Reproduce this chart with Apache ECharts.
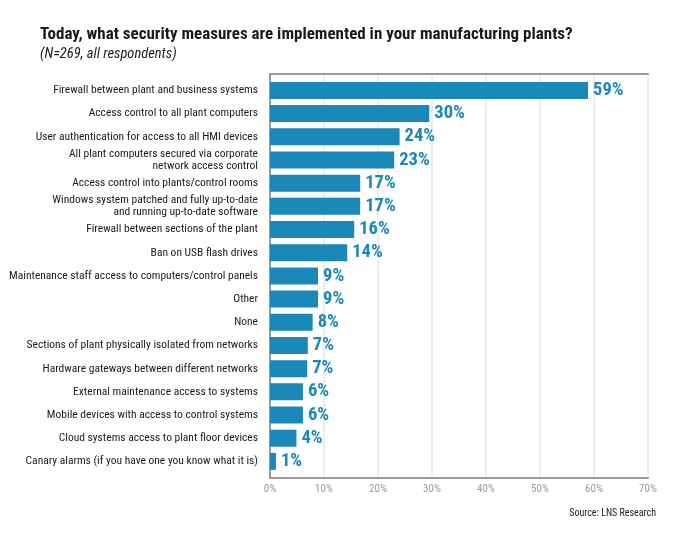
<!DOCTYPE html>
<html>
<head>
<meta charset="utf-8">
<script src="https://cdn.jsdelivr.net/npm/echarts@6/dist/echarts.min.js"></script>
<style>
html,body{margin:0;padding:0;background:#fff;}
#chart{width:680px;height:543px;}
</style>
</head>
<body>
<div id="chart"></div>
<script>
var categories = [
  'Firewall between plant and business systems',
  'Access control to all plant computers',
  'User authentication for access to all HMI devices',
  'All plant computers secured via corporate\nnetwork access control',
  'Access control into plants/control rooms',
  'Windows system patched and fully up-to-date\nand running up-to-date software',
  'Firewall between sections of the plant',
  'Ban on USB flash drives',
  'Maintenance staff access to computers/control panels',
  'Other',
  'None',
  'Sections of plant physically isolated from networks',
  'Hardware gateways between different networks',
  'External maintenance access to systems',
  'Mobile devices with access to control systems',
  'Cloud systems access to plant floor devices',
  'Canary alarms (if you have one you know what it is)'
];
var values = [58.9, 29.5, 24.0, 23.0, 16.7, 16.7, 15.6, 14.3, 8.9, 8.9, 7.9, 7.0, 6.9, 6.1, 6.1, 4.9, 1.1];
var valueLabels = ['59%', '30%', '24%', '23%', '17%', '17%', '16%', '14%', '9%', '9%', '8%', '7%', '7%', '6%', '6%', '4%', '1%'];
var xTicks = [0, 10, 20, 30, 40, 50, 60, 70];

var FONT = 'Roboto, "Liberation Sans", sans-serif';
var COND = 'condensed';
var COND_BOLD = 'bold condensed';
var BLUE = '#1a88b8';
var chart = echarts.init(document.getElementById('chart'), null, {renderer: 'canvas'});

var option = {
  animation: false,
  backgroundColor: '#fff',
  textStyle: {fontFamily: FONT},
  title: [{
    text: 'Today, what security measures are implemented in your manufacturing plants?',
    subtext: '(N=269, all respondents)',
    left: 35,
    top: 21,
    itemGap: 4,
    textStyle: {fontFamily: FONT, fontSize: 17, fontWeight: COND_BOLD, color: '#1a1a1a'},
    subtextStyle: {fontFamily: FONT, fontSize: 14.5, fontStyle: 'italic', fontWeight: COND, color: '#222'}
  }, {
    text: 'Source: LNS Research',
    right: 19,
    top: 503,
    textStyle: {fontFamily: FONT, fontSize: 10, fontWeight: COND, color: '#222'}
  }],
  grid: [
    {left: 270, right: 32, top: 78.8, height: 394.2, outerBoundsMode: 'none', containLabel: false},
    {left: 270, right: 32, top: 74, height: 404, outerBoundsMode: 'none', containLabel: false}
  ],
  xAxis: [
    {gridIndex: 0, type: 'value', min: 0, max: 70, show: false},
    {
      gridIndex: 1, type: 'value', min: 0, max: 70, interval: 10, position: 'bottom',
      axisLine: {show: true, lineStyle: {color: '#9a9a9a', width: 2}},
      axisTick: {show: false},
      splitLine: {show: true, lineStyle: {color: '#e6e6e6', width: 1.5}},
      axisLabel: {
        color: '#999', fontSize: 11, margin: 6, fontFamily: FONT, fontWeight: COND,
        formatter: function (v) { return xTicks.indexOf(v) >= 0 ? v + '%' : ''; }
      }
    },
    {
      gridIndex: 1, type: 'value', min: 0, max: 70, position: 'top',
      axisLine: {show: true, lineStyle: {color: '#9a9a9a', width: 2}},
      axisTick: {show: false}, axisLabel: {show: false}, splitLine: {show: false}
    }
  ],
  yAxis: [
    {
      gridIndex: 0, type: 'category', inverse: true, data: categories,
      axisLine: {show: false}, axisTick: {show: false}, splitLine: {show: false},
      axisLabel: {color: '#1a1a1a', fontSize: 11.5, margin: 12, lineHeight: 12, fontFamily: FONT, fontWeight: COND, align: 'right'}
    },
    {
      gridIndex: 1, type: 'value', min: 0, max: 1,
      axisLine: {show: true, lineStyle: {color: '#9a9a9a', width: 2}},
      axisTick: {show: false}, axisLabel: {show: false}, splitLine: {show: false}
    }
  ],
  series: [{
    type: 'bar',
    xAxisIndex: 0, yAxisIndex: 0,
    data: values,
    barWidth: 17,
    z: 3,
    itemStyle: {color: BLUE},
    label: {
      show: true, position: 'right', distance: 5,
      fontFamily: FONT, fontSize: 18.5, fontWeight: COND_BOLD, color: BLUE,
      formatter: function (p) { return valueLabels[p.dataIndex]; }
    }
  }]
};
chart.setOption(option);
</script>
</body>
</html>
